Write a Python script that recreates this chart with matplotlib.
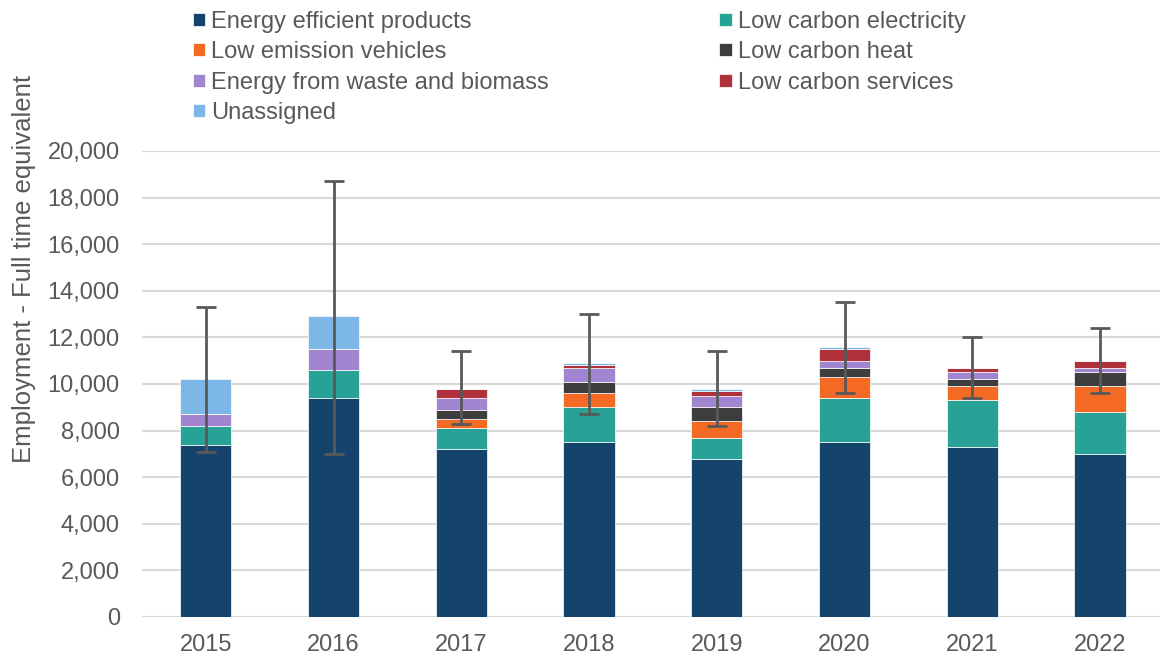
import matplotlib
matplotlib.use("Agg")
import matplotlib.pyplot as plt
import numpy as np

plt.rcParams['font.family'] = ['Liberation Sans', 'DejaVu Sans']

years = ["2015", "2016", "2017", "2018", "2019", "2020", "2021", "2022"]

# employment (FTE) by sector
energy_efficient = [7400, 9400, 7200, 7500, 6800, 7500, 7300, 7000]
low_carbon_elec = [800, 1200, 900, 1500, 900, 1900, 2000, 1800]
low_emission_veh = [0, 0, 400, 600, 700, 900, 600, 1100]
low_carbon_heat = [0, 0, 400, 500, 600, 400, 300, 600]
waste_biomass = [500, 900, 500, 600, 500, 300, 300, 200]
low_carbon_serv = [0, 0, 400, 100, 200, 500, 200, 300]
unassigned = [1500, 1400, 0, 100, 100, 100, 0, 0]

# confidence interval bounds
ci_low = [7100, 7000, 8300, 8700, 8200, 9600, 9400, 9600]
ci_high = [13300, 18700, 11400, 13000, 11400, 13500, 12000, 12400]

series = [
    ("Energy efficient products", energy_efficient, "#14446B"),
    ("Low carbon electricity", low_carbon_elec, "#28A197"),
    ("Low emission vehicles", low_emission_veh, "#F46A25"),
    ("Low carbon heat", low_carbon_heat, "#3D3D3D"),
    ("Energy from waste and biomass", waste_biomass, "#A285D1"),
    ("Low carbon services", low_carbon_serv, "#B0313B"),
    ("Unassigned", unassigned, "#7CB7E8"),
]

fig = plt.figure(figsize=(11.6, 6.57), dpi=100)
ax = fig.add_axes([0.1224, 0.0609, 0.8776, 0.7093])

x = np.arange(len(years))
bottom = np.zeros(len(years))
handles = {}
for name, vals, col in series:
    vals = np.array(vals, dtype=float)
    b = ax.bar(x, vals, 0.4, bottom=bottom, color=col, edgecolor="white",
               linewidth=0.5, label=name, zorder=3)
    handles[name] = b
    bottom += vals

total = bottom
err = [total - np.array(ci_low), np.array(ci_high) - total]
ax.errorbar(x, total, yerr=err, fmt="none", ecolor="#595959", elinewidth=2,
            capsize=7, capthick=2, zorder=4)

ax.set_ylim(0, 20000)
ax.set_xlim(-0.5, 7.47)
ax.set_yticks(np.arange(0, 20001, 2000))
ax.set_yticklabels([f"{v:,}" for v in range(0, 20001, 2000)])
ax.set_xticks(x)
ax.set_xticklabels(years)
ax.tick_params(axis="both", length=0, labelsize=17, colors="#595959")
ax.tick_params(axis="y", pad=16)
ax.tick_params(axis="x", pad=12)
ax.grid(axis="y", color="#D9D9D9", linewidth=1.5, zorder=0)
for s in ax.spines.values():
    s.set_visible(False)

fig.text(0.021, 0.5906, "Employment - Full time equivalent", rotation=90,
         ha="center", va="center", fontsize=18.5, color="#595959")

order = ["Energy efficient products", "Low emission vehicles", "Energy from waste and biomass",
         "Unassigned", "Low carbon electricity", "Low carbon heat", "Low carbon services"]
fig.legend([handles[n] for n in order], order, ncol=2, loc="upper left",
           bbox_to_anchor=(0.1477, 1.016), frameon=False, fontsize=17,
           handlelength=0.54, handleheight=0.47, handletextpad=0.25,
           columnspacing=7.2, labelspacing=0.36, labelcolor="#595959")

fig.savefig("out.png", dpi=100)
